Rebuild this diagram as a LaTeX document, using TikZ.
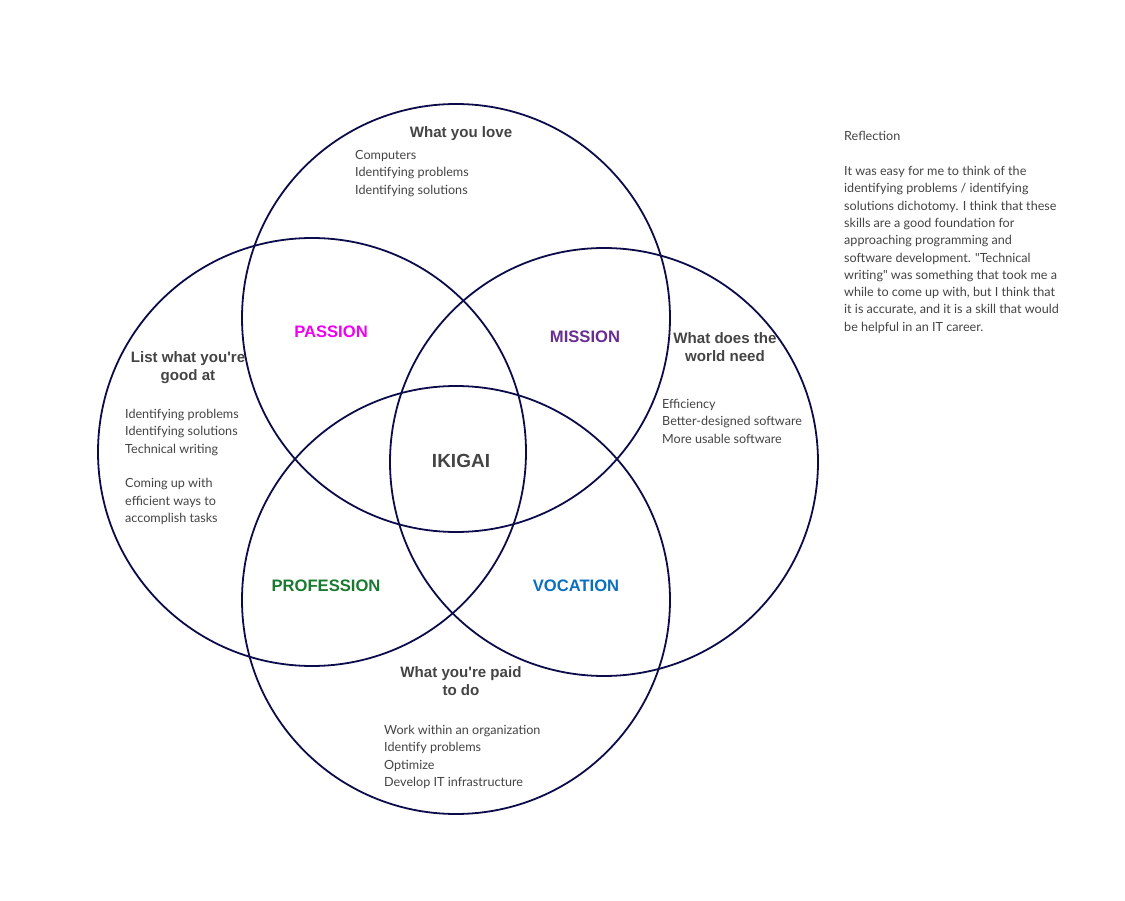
\documentclass[tikz,border=0pt]{standalone}
\usepackage{fontspec}
\setmainfont{Lato}
\newfontfamily\qfont{Lato}
\newfontfamily\headfont{Liberation Sans}
\newcommand{\sq}{{\qfont\symbol{34}}}
\definecolor{ring}{HTML}{0C0C4A}
\definecolor{txt}{HTML}{444444}
\definecolor{cpass}{HTML}{F000F0}
\definecolor{cmiss}{HTML}{672D91}
\definecolor{cprof}{HTML}{1A7A30}
\definecolor{cvoc}{HTML}{0A6FBD}
\begin{document}
\begin{tikzpicture}[x=1pt,y=-1pt,
  ringc/.style={draw=ring,line width=1.8pt},
  body/.style={inner sep=0pt,anchor=base west,align=left,text=txt,font=\fontsize{12.6}{17.3}\selectfont},
  head/.style={inner sep=0pt,anchor=base,align=center,text=txt,font=\headfont\bfseries\fontsize{15.1}{18}\selectfont},
  zone/.style={inner sep=0pt,font=\headfont\bfseries\fontsize{16.6}{18}\selectfont}]
\useasboundingbox (0,0) rectangle (1125,901);
\fill[white] (0,0) rectangle (1125,901);
\draw[ringc] (456,318) circle (214);
\draw[ringc] (312,452) circle (214);
\draw[ringc] (604,462) circle (214);
\draw[ringc] (456,600) circle (214);

\node[head] (love) at (461,137.5) {What you love};
\node[body] (lovelist) at (355,194.1) {Computers\\Identifying problems\\Identifying solutions};

\node[head] (good) at (188,380.5) {List what you're\\good at};
\node[body] (goodlist) at (125,522.3) {Identifying problems\\Identifying solutions\\Technical writing\\[17.3pt]Coming up with\\efficient ways to\\accomplish tasks};

\node[head] (world) at (725,361.5) {What does the\\world need};
\node[body] (worldlist) at (662,443.1) {Efficiency\\Better-designed software\\More usable software};

\node[head] (paid) at (461,695.5) {What you're paid\\to do};
\node[body] (paidlist) at (384,786.4) {Work within an organization\\Identify problems\\Optimize\\Develop IT infrastructure};

\node[body] (refl) at (844,140.5) {Reflection};
\node[body] (refltext) at (844,331.2) {It was easy for me to think of the\\identifying problems / identifying\\solutions dichotomy. I think that these\\skills are a good foundation for\\approaching programming and\\software development. \sq Technical\\writing\sq{} was something that took me a\\while to come up with, but I think that\\it is accurate, and it is a skill that would\\be helpful in an IT career.};

\node[zone,text=cpass] (passion) at (331,331.5) {PASSION};
\node[zone,text=cmiss] (mission) at (585,336.5) {MISSION};
\node[zone,text=cprof] (profession) at (326,585.5) {PROFESSION};
\node[zone,text=cvoc] (vocation) at (576,585.5) {VOCATION};
\node[inner sep=0pt,text=txt,font=\headfont\bfseries\fontsize{19}{22}\selectfont] (ikigai) at (461,460.5) {IKIGAI};
\end{tikzpicture}
\end{document}
